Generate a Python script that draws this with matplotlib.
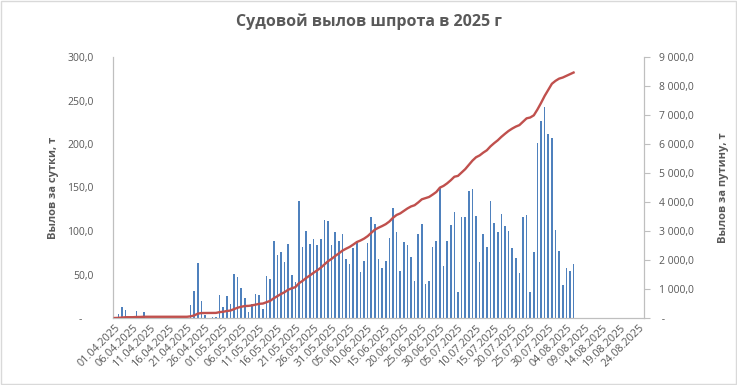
import numpy as np
import pandas as pd
import matplotlib
matplotlib.use('Agg')
from matplotlib import pyplot as plt
from matplotlib.ticker import FuncFormatter, MultipleLocator

plt.rcParams['font.family'] = ['Open Sans', 'DejaVu Sans']

title = 'Судовой вылов шпрота в 2025 г'
left_label = 'Вылов за сутки, т'
right_label = 'Вылов за путину, т'

start_date = '2025-04-01'
n_days = 147  # category axis 01.04 - 25.08

# daily catch, t (01.04 onwards)
daily = [
    0, 4.6, 13, 9.6, 0, 0, 8.4, 0, 7.3, 0,
    0, 0, 0, 0, 0, 0, 0, 0, 0, 0,
    0, 15.3, 30.6, 63, 19, 3, 0, 1, 1, 27,
    13, 25, 16, 51, 47, 34, 23, 6.5, 16.5, 28,
    26, 10, 48, 44.5, 88, 72, 75.5, 64, 84.7, 49,
    41, 135, 82, 99.6, 84.7, 90.4, 83.5, 90.4, 113, 111,
    83.5, 98.5, 88, 96, 67.4, 61.7, 81, 88, 52.5, 65,
    85.8, 115.7, 107.7, 67.4, 57, 65, 91.6, 127, 98.5, 53.7,
    87, 83.5, 69.7, 43, 96, 107.7, 38.7, 42, 82, 89,
    151, 59.4, 88, 106.5, 121.5, 29.5, 115.7, 115.7, 145.6, 148,
    117, 64, 96, 82, 134, 108.8, 98.5, 119, 105.4, 99.6,
    81, 68.6, 51.4, 115.7, 118, 29.5, 75.5, 200.8, 226, 242,
    212, 206.5, 100.8, 76.7, 37.6, 57, 53.7, 61.7,
]
cumulative = np.cumsum(daily)

dates = pd.date_range(start_date, periods=n_days, freq='D')
date_labels = [d.strftime('%d.%m.%Y') for d in dates]

bar_color = '#4f81bd'
line_color = '#c0504d'
text_color = '#595959'
axis_color = '#bfbfbf'


def left_fmt(v, pos):
    if abs(v) < 1e-9:
        return '-    '
    return '{:.1f}'.format(v).replace('.', ',')


def right_fmt(v, pos):
    if abs(v) < 1e-9:
        return ' -'
    s = '{:,.1f}'.format(v)
    return s.replace(',', ' ').replace('.', ',')


fig = plt.figure(figsize=(7.37, 3.85), dpi=100)
ax = fig.add_axes([113 / 737, 1 - 318 / 385, (644 - 113) / 737, (318 - 57) / 385])
ax2 = ax.twinx()

x = np.arange(len(daily))
ax.bar(x, daily, width=0.45, color=bar_color, zorder=2)
ax2.plot(x, cumulative, color=line_color, lw=1.7, zorder=3)

ax.set_xlim(-0.5, n_days - 0.5)
ax.set_ylim(0, 300)
ax2.set_ylim(0, 9000)
ax.yaxis.set_major_locator(MultipleLocator(50))
ax2.yaxis.set_major_locator(MultipleLocator(1000))
ax.yaxis.set_major_formatter(FuncFormatter(left_fmt))
ax2.yaxis.set_major_formatter(FuncFormatter(right_fmt))

tick_pos = np.arange(0, n_days, 5)
ax.set_xticks(tick_pos)
ax.set_xticklabels([date_labels[i] for i in tick_pos], rotation=45,
                   ha='right', va='top', rotation_mode='anchor')

for a in (ax, ax2):
    a.spines['top'].set_visible(False)
    a.spines['left'].set_color(axis_color)
    a.spines['right'].set_color(axis_color)
    a.spines['bottom'].set_color(axis_color)
    a.tick_params(colors=text_color, labelsize=7.5)

ax.tick_params(axis='y', length=0, pad=14)
ax.tick_params(axis='x', length=0, pad=3, labelsize=7.8)
ax2.tick_params(axis='y', length=4, color=axis_color, pad=7)
ax.set_zorder(ax2.get_zorder() - 1)
ax2.patch.set_visible(True)
ax2.patch.set_alpha(0)

ax.set_ylabel(left_label, fontsize=8, fontweight='bold', color=text_color, labelpad=6)
ax2.set_ylabel(right_label, fontsize=8, fontweight='bold', color=text_color, labelpad=17)

fig.suptitle(title, x=0.5, y=0.965, fontsize=11.5, fontweight='bold', color=text_color)

fig.patches.append(plt.Rectangle((0.001, 0.002), 0.997, 0.996, transform=fig.transFigure,
                                 fill=False, edgecolor='#d9d9d9', lw=1))

fig.savefig('out.png', dpi=100)
